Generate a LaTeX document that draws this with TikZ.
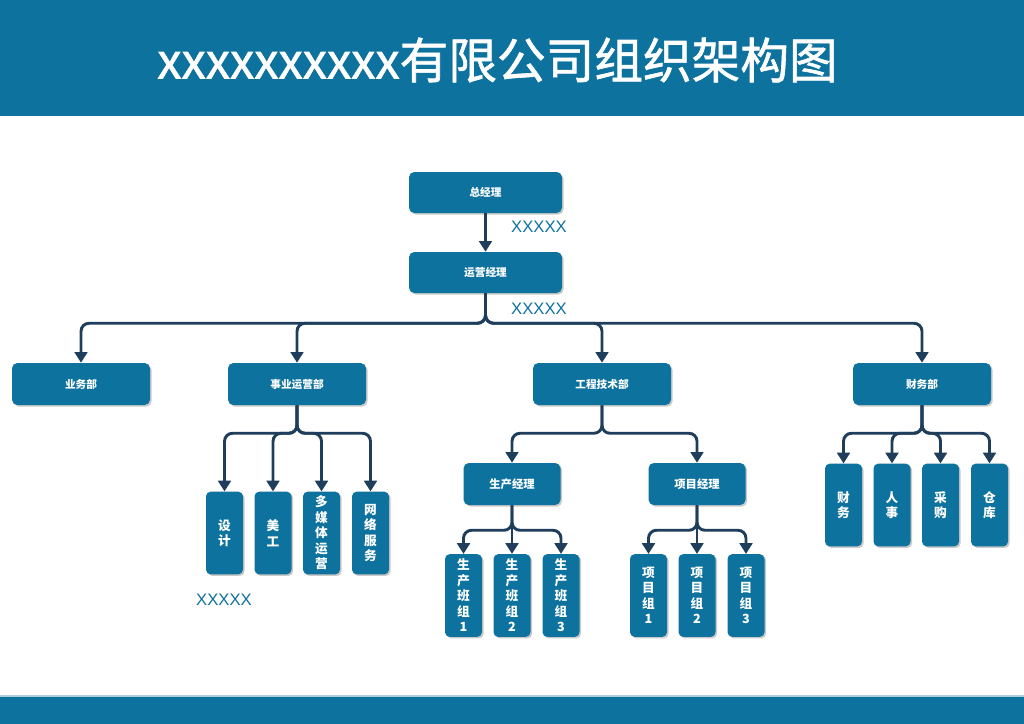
\documentclass[tikz,border=0pt]{standalone}
\usepackage{fontspec}
\setmainfont{Noto Sans CJK SC}
\newfontfamily\latinsans{Liberation Sans}
\newfontfamily\titlefont{Noto Sans CJK SC}[FakeBold=1.3]
\usetikzlibrary{arrows.meta,shadows}

\definecolor{orgblue}{RGB}{14,114,158}
\definecolor{linkblue}{RGB}{31,62,92}

\tikzset{
  unitbox/.style={fill=orgblue, rounded corners=4pt, text=white, inner sep=0pt,
    font=\bfseries\fontsize{8}{10}\selectfont,
    drop shadow={shadow xshift=1.2pt, shadow yshift=-1.2pt, opacity=0.35, fill=black!60}},
  headbox/.style={unitbox, minimum width=114.75pt, minimum height=30.75pt},
  deptbox/.style={unitbox, minimum width=103.5pt, minimum height=31.5pt},
  mgrbox/.style={unitbox, minimum width=72.75pt, minimum height=31.5pt, font=\bfseries\fontsize{8.5}{10}\selectfont},
  tallbox/.style={unitbox, rounded corners=3.5pt, minimum width=27.75pt, minimum height=62pt,
    align=center, font=\bfseries\fontsize{9.5}{11.6}\selectfont},
  link/.style={draw=linkblue, line width=2.2pt, rounded corners=6pt,
    -{Triangle[width=9.5pt,length=8pt]}},
  note/.style={text=orgblue, font=\latinsans\fontsize{12.5}{14}\selectfont}
}

\begin{document}
\begin{tikzpicture}[x=0.75pt, y=-0.75pt]
  \useasboundingbox (0,0) rectangle (1024,724);

  % Title band and footer band
  \fill[orgblue] (0,0) rectangle (1024,116);
  \fill[orgblue] (0,697) rectangle (1024,724);
  \draw[orgblue!35, line width=1pt] (0,696) -- (1024,696);
  \node[text=white, font=\titlefont\fontsize{36.5}{40}\selectfont] (title) at (497.5,60) {xxxxxxxxxx有限公司组织架构图};

  % Management
  \node[headbox] (gm) at (485.5,192.5) {总经理};
  \node[headbox] (ops) at (485.5,272.5) {运营经理};
  \node[note] (gmnote) at (539,227) {XXXXX};
  \node[note] (opsnote) at (539,309) {XXXXX};
  \draw[link] (gm.south) -- (ops.north);

  % Departments
  \node[deptbox] (sales) at (81,384) {业务部};
  \node[deptbox] (biz) at (297,384) {事业运营部};
  \node[deptbox] (eng) at (602,384) {工程技术部};
  \node[deptbox] (fin) at (922,384) {财务部};
  \foreach \dept in {sales,biz,eng,fin}
    \draw[link] (ops.south) -- ++(0,30) -| (\dept.north);

  % Business operations teams
  \node[tallbox] (design) at (224.5,533) {设\\计};
  \node[tallbox] (art) at (273,533) {美\\工};
  \node[tallbox] (media) at (321.5,533) {多\\媒\\体\\运\\营};
  \node[tallbox] (web) at (370.5,533) {网\\络\\服\\务};
  \node[note] (biznote) at (224,600) {XXXXX};
  \foreach \team in {design,art,media,web}
    \draw[link] (biz.south) -- ++(0,28) -| (\team.north);

  % Engineering
  \node[mgrbox] (prod) at (512,484) {生产经理};
  \node[mgrbox] (proj) at (697,484) {项目经理};
  \foreach \mgr in {prod,proj}
    \draw[link] (eng.south) -- ++(0,28) -| (\mgr.north);

  \foreach \n/\x in {1/463.5,2/512,3/561}
    \node[tallbox] (prod\n) at (\x,595.5) {生\\产\\班\\组\\\n};
  \foreach \n/\x in {1/648.5,2/697,3/746}
    \node[tallbox] (proj\n) at (\x,595.5) {项\\目\\组\\\n};
  \foreach \n in {1,2,3} {
    \draw[link] (prod.south) -- ++(0,25) -| (prod\n.north);
    \draw[link] (proj.south) -- ++(0,25) -| (proj\n.north);
  }

  % Finance teams
  \node[tallbox] (acct) at (843.5,505) {财\\务};
  \node[tallbox] (hr) at (892,505) {人\\事};
  \node[tallbox] (buy) at (940.5,505) {采\\购};
  \node[tallbox] (store) at (989.5,505) {仓\\库};
  \foreach \team in {acct,hr,buy,store}
    \draw[link] (fin.south) -- ++(0,28) -| (\team.north);
\end{tikzpicture}
\end{document}
